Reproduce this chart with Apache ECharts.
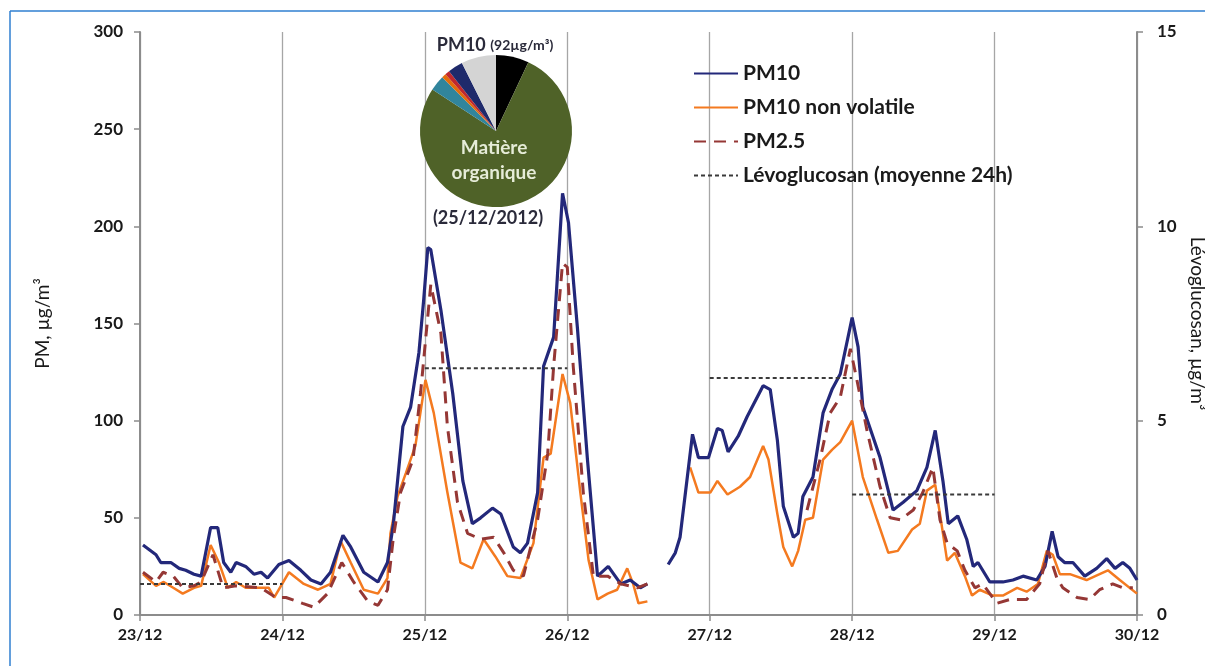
<!DOCTYPE html>
<html>
<head>
<meta charset="utf-8">
<script src="https://cdn.jsdelivr.net/npm/echarts@6/dist/echarts.min.js"></script>
<style>
  html, body { margin: 0; padding: 0; background: #ffffff; overflow: hidden; }
  #chart { width: 1205px; height: 666px; }
</style>
</head>
<body>
<div id="chart"></div>
<script>
// Hours counted from 23/12 00:00; values in µg/m³
const dayLabels = ['23/12', '24/12', '25/12', '26/12', '27/12', '28/12', '29/12', '30/12'];

const pm10 = [
  [0.5,36],[2.7,31],[3.5,27],[5.2,27],[6.6,24],[7.7,23],[9.1,21],[10.3,20],[11.9,45],[13.1,45],
  [14.1,27],[15.3,22],[16.2,27],[17.8,25],[19.2,21],[20.4,22],[21.5,19],[23.4,26],[25.1,28],[27.1,23],
  [28.8,18],[30.5,16],[32.1,22],[34.2,41],[35.5,35],[37.7,22],[40.1,17],[41.7,27],[42.7,47],[43.4,69],
  [44.3,97],[45.6,107],[47.0,135],[47.8,162],[48.5,189],[49.0,188],[50.7,157],[52.7,114],[54.4,69],[56.0,47],
  [57.4,50],[59.4,55],[60.8,52],[62.9,35],[64.1,32],[65.3,37],[67.0,63],[68.0,128],[69.7,143],[71.2,217],
  [72.2,202],[73.7,148],[75.4,80],[77.1,20],[78.9,25],[81.0,16],[82.6,18],[84.3,14],[85.5,16],[87,null],
  [89.0,26],[90.2,32],[91.0,40],[93.1,93],[94.1,81],[95.8,81],[97.3,96],[98.1,95],[99.1,84],[100.8,92],
  [102.3,102],[105.0,118],[106.2,116],[107.4,90],[108.4,56],[110.1,40],[110.9,42],[111.7,61],[113.4,71],[115.1,104],
  [116.6,116],[118.0,124],[120.0,153],[121.0,138],[121.8,107],[124.7,81],[126.9,54],[128.6,58],[130.9,64],[132.6,76],
  [134.0,95],[135.3,69],[136.2,47],[137.8,51],[139.3,39],[140.4,25],[141.2,27],[143.2,17],[145.4,17],[147.1,18],
  [148.8,20],[151.1,18],[152.5,25],[153.7,43],[154.7,30],[155.8,27],[157.2,27],[159.2,20],[161.2,24],[162.9,29],
  [164.3,24],[165.6,27],[166.8,24],[168.0,18]
];

const pm10NonVolatile = [
  [0.5,21],[2.7,15],[4.0,17],[5.6,14],[7.2,11],[9.1,14],[10.3,15],[11.9,36],[13.3,27],[14.8,14],
  [16.2,17],[17.8,14],[20.4,14],[21.7,14],[22.6,9],[25.1,22],[27.6,16],[30.0,13],[32.1,16],[33.8,38],
  [35.5,27],[37.7,13],[40.1,11],[41.7,19],[42.2,42],[43.4,61],[44.8,73],[46.4,87],[48.1,121],[49.5,104],
  [51.8,63],[54.0,27],[56.0,24],[57.9,39],[59.9,30],[61.9,20],[64.1,19],[66.3,37],[68.0,81],[69.2,83],
  [71.2,124],[72.5,109],[74.2,63],[75.6,28],[77.1,8],[78.8,11],[80.4,13],[82.1,24],[83.1,16],[84.0,6],
  [85.5,7],[87,null],
  [92.7,76],[94.1,63],[96.1,63],[97.3,69],[99.0,62],[101.1,66],[102.8,71],[105.0,87],[105.9,80],[107.4,52],
  [108.4,35],[109.9,25],[110.9,33],[112.1,49],[113.4,50],[115.1,80],[116.6,85],[118.0,89],[120.0,100],[121.8,71],
  [124.2,49],[126.1,32],[127.7,33],[130.1,44],[131.4,47],[132.6,64],[134.0,67],[134.8,52],[136.0,28],[137.3,32],
  [139.0,20],[140.2,10],[141.5,13],[143.7,10],[145.4,10],[147.8,14],[149.4,12],[151.3,16],[152.8,33],[153.8,31],
  [155.0,21],[156.7,21],[159.5,18],[161.7,21],[163.1,23],[165.1,18],[168.0,11]
];

const pm25 = [
  [0.5,22],[2.7,17],[3.9,22],[5.6,20],[7.2,14],[9.1,15],[10.3,17],[12.3,31],[14.0,14],[16.2,15],
  [20.4,14],[22.9,9],[24.6,9],[27.4,6],[29.3,4],[31.6,11],[34.0,27],[36.0,17],[38.4,7],[40.1,5],
  [41.7,13],[42.7,40],[43.9,63],[46.0,80],[47.3,115],[49.0,170],[50.7,145],[51.8,97],[53.5,58],[55.2,42],
  [57.4,39],[59.6,40],[61.3,32],[62.9,23],[64.6,20],[67.0,49],[68.7,83],[69.7,128],[71.2,181],[72.0,179],
  [73.0,128],[74.7,63],[76.4,20],[78.8,20],[81.0,16],[83.8,14],[85.5,16],[87,null],
  [112.4,54],[114.6,80],[116.3,104],[118.0,112],[119.7,137],[120.8,121],[122.5,95],[124.7,66],[126.4,50],[128.1,49],
  [130.3,54],[131.9,63],[133.6,76],[134.8,49],[136.0,37],[137.7,33],[139.0,23],[140.7,14],[142.0,16],[144.4,6],
  [146.6,8],[149.4,8],[151.6,16],[153.0,33],[154.5,19],[155.5,14],[157.9,9],[160.0,8],[161.7,13],[163.9,16],
  [165.6,14],[167.3,14]
];

// Levoglucosan, 24 h averages (right axis)
const levoStartHour = [0, 48, 96, 120];
const levoValue = [0.8, 6.35, 6.1, 3.1];

// PM10 composition on 25/12/2012
const pieNames = ['Carbone élémentaire', 'Matière organique', 'Sulfate', 'Nitrate', 'Ammonium', 'Sels marins', 'Autres'];
const pieValues = [7, 77.2, 3.3, 0.9, 1.0, 3.2, 7.4];
const pieColors = ['#000000', '#4f6228', '#31859c', '#e46c0a', '#c0282d', '#1f2a6b', '#d4d4d4'];

const levoData = [];
levoStartHour.forEach((s, i) => {
  levoData.push([s, levoValue[i]], [s + 24, levoValue[i]], [s + 24, null]);
});

const FONT = 'Lato, "Open Sans", sans-serif';
const AXIS_GRAY = '#8c8c8c';

const chart = echarts.init(document.getElementById('chart'), null, { renderer: 'canvas' });

chart.setOption({
  animation: false,
  backgroundColor: '#ffffff',
  textStyle: { fontFamily: FONT },
  grid: { left: 140, right: 68, top: 32, bottom: 51, containLabel: false, outerBoundsMode: 'none' },
  legend: {
    data: ['PM10', 'PM10 non volatile', 'PM2.5', 'Lévoglucosan (moyenne 24h)'],
    orient: 'vertical',
    left: 688,
    top: 58,
    itemWidth: 44,
    itemHeight: 14,
    itemGap: 13,
    itemStyle: { opacity: 0 },
    textStyle: { fontFamily: FONT, fontWeight: 'bold', fontSize: 21, color: '#1a1a1a' }
  },
  xAxis: {
    type: 'value',
    min: 0, max: 168, interval: 24,
    axisLine: { lineStyle: { color: AXIS_GRAY, width: 2 } },
    axisTick: { show: true, length: 6, lineStyle: { color: AXIS_GRAY, width: 1.5 } },
    axisLabel: {
      margin: 12,
      fontFamily: FONT, fontWeight: 'bold', fontSize: 16, color: '#1a1a1a',
      formatter: (v) => dayLabels[Math.round(v / 24)]
    },
    splitLine: { show: true, lineStyle: { color: '#a6a6a6', width: 1.3 } }
  },
  yAxis: [
    {
      type: 'value',
      min: 0, max: 300, interval: 50,
      name: 'PM, µg/m³',
      nameLocation: 'middle',
      nameGap: 88,
      nameRotate: 90,
      nameTextStyle: { fontFamily: FONT, fontSize: 19, color: '#1a1a1a' },
      axisLine: { show: true, lineStyle: { color: AXIS_GRAY, width: 2 } },
      axisTick: { show: true, length: 6, lineStyle: { color: AXIS_GRAY, width: 1.5 } },
      axisLabel: { margin: 17, fontFamily: FONT, fontWeight: 'bold', fontSize: 17, color: '#1a1a1a' },
      splitLine: { show: false }
    },
    {
      type: 'value',
      min: 0, max: 15, interval: 5,
      name: 'Lévoglucosan, µg/m³',
      nameLocation: 'middle',
      nameGap: 50,
      nameRotate: -90,
      nameTextStyle: { fontFamily: FONT, fontSize: 19, color: '#1a1a1a' },
      axisLine: { show: true, lineStyle: { color: AXIS_GRAY, width: 2 } },
      axisTick: { show: true, length: 6, lineStyle: { color: AXIS_GRAY, width: 1.5 } },
      axisLabel: { margin: 20, fontFamily: FONT, fontWeight: 'bold', fontSize: 17, color: '#1a1a1a' },
      splitLine: { show: false }
    }
  ],
  series: [
    {
      name: 'PM10', type: 'line', yAxisIndex: 0,
      data: pm10, showSymbol: false, symbol: 'none', connectNulls: false,
      lineStyle: { color: '#23287a', width: 3.2 }, itemStyle: { color: '#23287a' }, z: 4
    },
    {
      name: 'PM10 non volatile', type: 'line', yAxisIndex: 0,
      data: pm10NonVolatile, showSymbol: false, symbol: 'none', connectNulls: false,
      lineStyle: { color: '#f47a20', width: 2.5 }, itemStyle: { color: '#f47a20' }, z: 3
    },
    {
      name: 'PM2.5', type: 'line', yAxisIndex: 0,
      data: pm25, showSymbol: false, symbol: 'none', connectNulls: false,
      lineStyle: { color: '#953735', width: 3, type: [12, 8] }, itemStyle: { color: '#953735' }, z: 5
    },
    {
      name: 'Lévoglucosan (moyenne 24h)', type: 'line', yAxisIndex: 1,
      data: levoData, showSymbol: false, symbol: 'none', connectNulls: false,
      lineStyle: { color: '#3a3a3a', width: 2, type: [4, 3] }, itemStyle: { color: '#3a3a3a' }, z: 6
    },
    {
      name: 'Composition PM10', type: 'pie',
      center: [496, 131], radius: 76,
      startAngle: 90, clockwise: true,
      label: { show: false }, labelLine: { show: false },
      emphasis: { disabled: true },
      itemStyle: { borderWidth: 0 },
      data: pieNames.map((n, i) => ({ name: n, value: pieValues[i], itemStyle: { color: pieColors[i] } })),
      z: 10
    }
  ],
  graphic: [
    { type: 'line', shape: { x1: 10, y1: 11, x2: 1205, y2: 11 }, style: { stroke: '#2f7fd0', lineWidth: 1.5 }, silent: true },
    { type: 'line', shape: { x1: 10, y1: 11, x2: 10, y2: 666 }, style: { stroke: '#2f7fd0', lineWidth: 1.5 }, silent: true },
    {
      type: 'text', z: 20, x: 495, y: 45,
      style: {
        text: '{a|PM10 }{b|(92µg/m³)}', align: 'center', verticalAlign: 'middle',
        rich: {
          a: { fontFamily: FONT, fontWeight: 'bold', fontSize: 18, fill: '#2a2a3a' },
          b: { fontFamily: FONT, fontWeight: 'bold', fontSize: 14, fill: '#2a2a3a' }
        }
      }
    },
    {
      type: 'text', z: 20, x: 494, y: 160,
      style: {
        text: 'Matière\norganique', align: 'center', verticalAlign: 'middle',
        fontFamily: FONT, fontWeight: 'bold', fontSize: 19, lineHeight: 25, fill: '#e6ecd8'
      }
    },
    {
      type: 'text', z: 20, x: 488, y: 218,
      style: {
        text: '(25/12/2012)', align: 'center', verticalAlign: 'middle',
        fontFamily: FONT, fontWeight: 'bold', fontSize: 18, fill: '#2a2a3a'
      }
    }
  ]
});
</script>
</body>
</html>
